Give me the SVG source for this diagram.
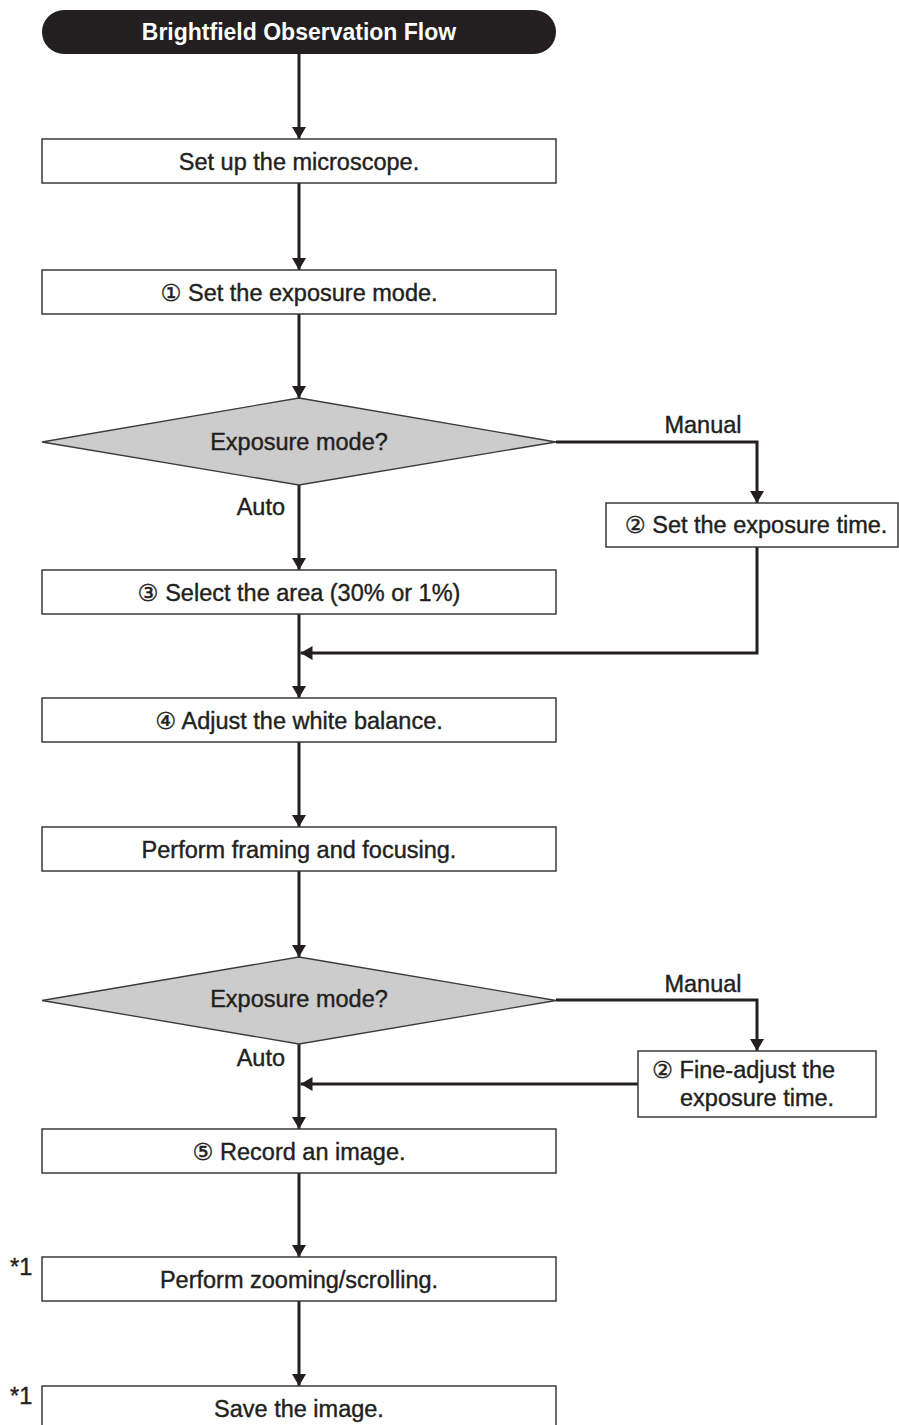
<svg xmlns="http://www.w3.org/2000/svg" width="899" height="1425" viewBox="0 0 899 1425">
<style>
.box{fill:#ffffff;stroke:#3a3a3a;stroke-width:1.5}
.dia{fill:#cccccc;stroke:#3a3a3a;stroke-width:1.3}
.t{font-family:"Liberation Sans","DejaVu Sans",sans-serif;font-size:23.5px;fill:#231f20;stroke:#231f20;stroke-width:0.4}
.c{text-anchor:middle}
.title{font-family:"Liberation Sans","DejaVu Sans",sans-serif;font-size:23px;font-weight:bold;fill:#ffffff;text-anchor:middle}
.ln{fill:none;stroke:#231f20;stroke-width:3}
</style>
<defs>
<marker id="ah" viewBox="0 0 12 14" refX="12" refY="7" markerWidth="12" markerHeight="14" markerUnits="userSpaceOnUse" orient="auto">
<path d="M0,0 L12,7 L0,14 Z" fill="#231f20"/>
</marker>
</defs>

<g id="connectors">
<line class="ln" x1="299" y1="54" x2="299" y2="139" marker-end="url(#ah)"/>
<line class="ln" x1="299" y1="183" x2="299" y2="270" marker-end="url(#ah)"/>
<line class="ln" x1="299" y1="314" x2="299" y2="398" marker-end="url(#ah)"/>
<line class="ln" x1="299" y1="485" x2="299" y2="570" marker-end="url(#ah)"/>
<polyline class="ln" points="556,442 757,442 757,503" marker-end="url(#ah)"/>
<line class="ln" x1="299" y1="614" x2="299" y2="698" marker-end="url(#ah)"/>
<polyline class="ln" points="757,547 757,653 300.5,653" marker-end="url(#ah)"/>
<line class="ln" x1="299" y1="742" x2="299" y2="827" marker-end="url(#ah)"/>
<line class="ln" x1="299" y1="871" x2="299" y2="957" marker-end="url(#ah)"/>
<line class="ln" x1="299" y1="1044" x2="299" y2="1129" marker-end="url(#ah)"/>
<polyline class="ln" points="556,1000 757,1000 757,1051" marker-end="url(#ah)"/>
<line class="ln" x1="638" y1="1084" x2="300.5" y2="1084" marker-end="url(#ah)"/>
<line class="ln" x1="299" y1="1173" x2="299" y2="1257" marker-end="url(#ah)"/>
<line class="ln" x1="299" y1="1301" x2="299" y2="1386" marker-end="url(#ah)"/>
<text class="t c" x="703" y="433">Manual</text>
<text class="t" x="285" y="515" text-anchor="end">Auto</text>
<text class="t c" x="703" y="992">Manual</text>
<text class="t" x="285" y="1066" text-anchor="end">Auto</text>
</g>

<g id="start">
<rect x="42" y="10" width="514" height="44" rx="22" ry="22" fill="#231f20"/>
<text class="title" x="299" y="40">Brightfield Observation Flow</text>
</g>

<g id="setup">
<rect class="box" x="42" y="139" width="514" height="44"/>
<text class="t c" x="299" y="170">Set up the microscope.</text>
</g>

<g id="exposure-mode">
<rect class="box" x="42" y="270" width="514" height="44"/>
<text class="t c" x="299" y="301">① Set the exposure mode.</text>
</g>

<g id="decision1">
<polygon class="dia" points="299,398 556,442 299,485 42,442"/>
<text class="t c" x="299" y="450">Exposure mode?</text>
</g>

<g id="exposure-time">
<rect class="box" x="606" y="503" width="292" height="44"/>
<text class="t c" x="756" y="533">② Set the exposure time.</text>
</g>

<g id="select-area">
<rect class="box" x="42" y="570" width="514" height="44"/>
<text class="t c" x="299" y="601">③ Select the area (30% or 1%)</text>
</g>

<g id="white-balance">
<rect class="box" x="42" y="698" width="514" height="44"/>
<text class="t c" x="299" y="729">④ Adjust the white balance.</text>
</g>

<g id="framing">
<rect class="box" x="42" y="827" width="514" height="44"/>
<text class="t c" x="299" y="858">Perform framing and focusing.</text>
</g>

<g id="decision2">
<polygon class="dia" points="299,957 556,1000.5 299,1044 42,1000.5"/>
<text class="t c" x="299" y="1007">Exposure mode?</text>
</g>

<g id="fine-adjust">
<rect class="box" x="638" y="1051" width="238" height="66"/>
<text class="t" x="652" y="1078">② Fine-adjust the</text>
<text class="t" x="680" y="1106">exposure time.</text>
</g>

<g id="record">
<rect class="box" x="42" y="1129" width="514" height="44"/>
<text class="t c" x="299" y="1160">⑤ Record an image.</text>
</g>

<g id="zoom">
<text class="t" x="10" y="1275">*1</text>
<rect class="box" x="42" y="1257" width="514" height="44"/>
<text class="t c" x="299" y="1288">Perform zooming/scrolling.</text>
</g>

<g id="save">
<text class="t" x="10" y="1404">*1</text>
<rect class="box" x="42" y="1386" width="514" height="44"/>
<text class="t c" x="299" y="1417">Save the image.</text>
</g>
</svg>
